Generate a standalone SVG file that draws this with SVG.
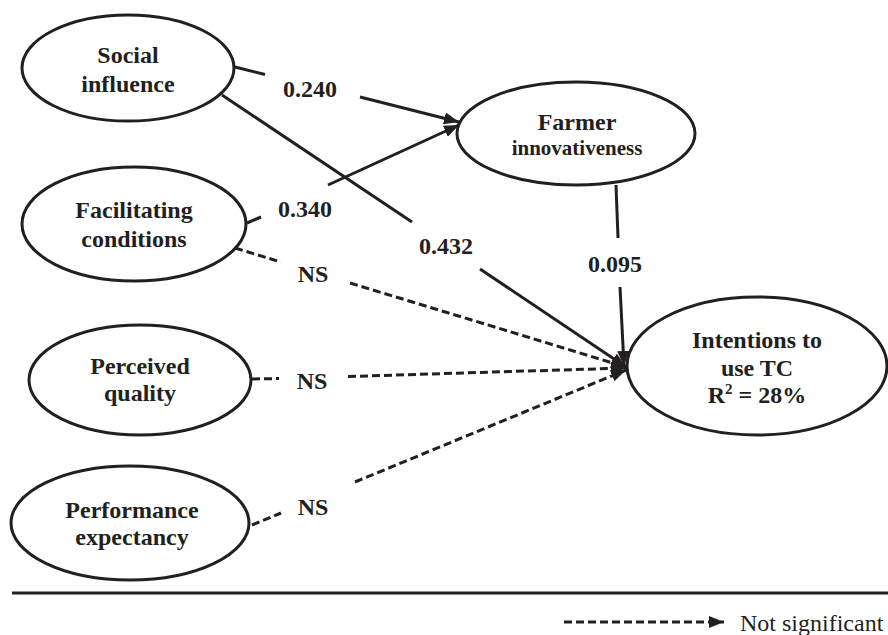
<svg xmlns="http://www.w3.org/2000/svg" width="888" height="635" viewBox="0 0 888 635">
<style>
.node{fill:#fff;stroke:#231f20;stroke-width:3}
.t{font-family:"Liberation Serif","Times New Roman",serif;font-weight:bold;font-size:24px;fill:#231f20;text-anchor:middle}
.edge{fill:none;stroke:#231f20;stroke-width:3}
.dash{stroke-dasharray:8 4}
.lbl{font-family:"Liberation Serif","Times New Roman",serif;font-weight:bold;font-size:24px;fill:#231f20;text-anchor:middle}
</style>
<defs>
<marker id="ah" markerUnits="userSpaceOnUse" markerWidth="16" markerHeight="12" refX="15" refY="6" orient="auto">
<path d="M0,0 L15,6 L0,12 z" fill="#231f20"/>
</marker>
</defs>
<g id="connectors">
<line class="edge" x1="235" y1="67" x2="265" y2="74.5"/>
<line class="edge" x1="360" y1="97" x2="459" y2="122" marker-end="url(#ah)"/>
<line class="edge" x1="247" y1="223" x2="261" y2="217"/>
<line class="edge" x1="328" y1="185" x2="459" y2="125" marker-end="url(#ah)"/>
<line class="edge" x1="222" y1="95" x2="412" y2="222"/>
<line class="edge" x1="480" y1="269" x2="626" y2="367" marker-end="url(#ah)"/>
<line class="edge" x1="616" y1="185" x2="618" y2="238"/>
<line class="edge" x1="620" y1="287" x2="624" y2="366" marker-end="url(#ah)"/>
<line class="edge dash" x1="235" y1="248" x2="281" y2="262"/>
<line class="edge dash" x1="350" y1="283" x2="626" y2="367" marker-end="url(#ah)"/>
<line class="edge dash" x1="252" y1="379" x2="279" y2="378.5"/>
<line class="edge dash" x1="348" y1="376.5" x2="626" y2="368" marker-end="url(#ah)"/>
<line class="edge dash" x1="252" y1="525" x2="281" y2="513"/>
<line class="edge dash" x1="355" y1="482" x2="626" y2="370" marker-end="url(#ah)"/>
<text class="lbl" x="310" y="97">0.240</text>
<text class="lbl" x="305" y="217">0.340</text>
<text class="lbl" x="446" y="254">0.432</text>
<text class="lbl" x="615" y="272">0.095</text>
<text class="lbl" x="313" y="282">NS</text>
<text class="lbl" x="312" y="389">NS</text>
<text class="lbl" x="313" y="515">NS</text>
</g>
<g id="social-influence">
<ellipse class="node" cx="128" cy="68" rx="106" ry="53"/>
<text class="t" x="128" y="63">Social</text>
<text class="t" x="128" y="92">influence</text>
</g>
<g id="facilitating-conditions">
<ellipse class="node" cx="134" cy="224" rx="112" ry="57"/>
<text class="t" x="134" y="218">Facilitating</text>
<text class="t" x="134" y="247">conditions</text>
</g>
<g id="farmer-innovativeness">
<ellipse class="node" cx="576" cy="133.5" rx="119" ry="51.5"/>
<text class="t" x="577" y="130">Farmer</text>
<text class="t" x="577" y="155" style="font-size:21px">innovativeness</text>
</g>
<g id="perceived-quality">
<ellipse class="node" cx="140" cy="380" rx="111" ry="55"/>
<text class="t" x="140" y="374">Perceived</text>
<text class="t" x="140" y="401">quality</text>
</g>
<g id="performance-expectancy">
<ellipse class="node" cx="130" cy="523" rx="119" ry="57"/>
<text class="t" x="132" y="518">Performance</text>
<text class="t" x="132" y="545">expectancy</text>
</g>
<g id="intentions">
<ellipse class="node" cx="757" cy="366" rx="130" ry="69"/>
<text class="t" x="757" y="348">Intentions to</text>
<text class="t" x="757" y="376">use TC</text>
<text class="t" x="757" y="403">R<tspan dy="-9" style="font-size:15px">2</tspan><tspan dy="9"> = 28%</tspan></text>
</g>
<g id="legend">
<line x1="12" y1="593" x2="888" y2="593" stroke="#231f20" stroke-width="3"/>
<line class="edge dash" x1="564" y1="622" x2="724" y2="622" marker-end="url(#ah)"/>
<text x="740" y="631" style="font-family:'Liberation Serif','Times New Roman',serif;font-size:24px;fill:#231f20">Not significant</text>
</g>
</svg>
